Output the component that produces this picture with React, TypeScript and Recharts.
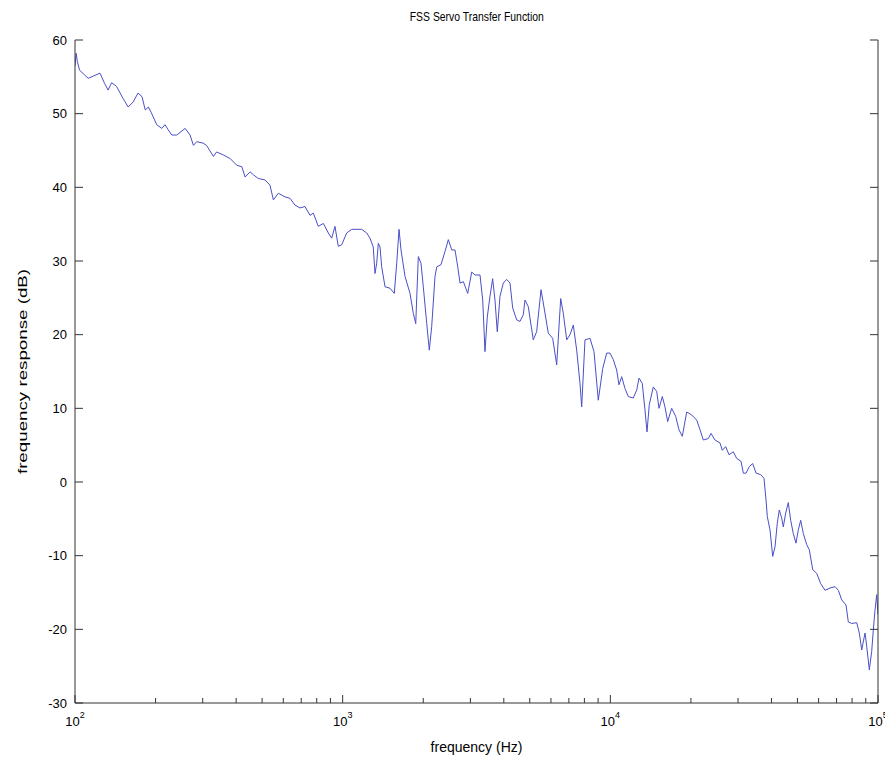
import { Label, Line, LineChart, XAxis, YAxis } from "recharts";

// frequency (Hz) and response (dB)
const FREQ_HZ = [
  100, 101, 102, 104, 109, 112, 117, 124, 129, 133, 137, 143, 151, 158, 165, 172, 178, 183, 188, 193,
  202, 211, 217, 223, 230, 240, 258, 269, 277, 285, 301,
  310, 329, 338, 358, 380, 402, 420, 432, 451, 464, 484, 513, 535, 551, 575, 609, 636, 663, 693, 723,
  755, 777, 811, 847, 884, 910, 936, 963,
  992, 1035, 1081, 1178, 1230, 1265, 1301, 1321, 1340, 1359, 1379, 1399, 1440, 1503, 1559, 1592, 1624,
  1652, 1710, 1785, 1836, 1875, 1917, 1962, 2001, 2061, 2107, 2151, 2213, 2246, 2330, 2412, 2482, 2556,
  2629, 2691, 2745, 2824, 2932, 3035, 3122,
  3259, 3336, 3402, 3470, 3551, 3634, 3707, 3781, 3870, 3981, 4100, 4219, 4318, 4469, 4597, 4729, 4799,
  4937, 5153, 5306, 5508, 5618, 5865, 6091, 6304, 6525, 6672, 6871, 7069, 7272, 7487, 7703, 7816, 8041,
  8395, 8690, 9016, 9365, 9692, 9972,
  10260, 10560, 10770, 11030, 11340, 11670, 12180, 12550, 12800, 13160, 13470, 13710, 13980, 14470,
  14900, 15200, 15640, 16000, 16380, 16950, 17550, 18050, 18570, 19290, 20140, 21020, 21630, 22250,
  23230, 23780, 24600, 25690, 26200, 26980, 27750, 28800, 29660, 30780, 31400,
  32130, 33060, 34040, 35020, 36460, 37510, 38160, 38590, 39490, 40420, 41230, 42050, 42780, 43670,
  44280, 45200, 46220, 47190, 48250, 49390, 50380, 51430, 52600, 54160, 55380, 57030, 59020, 61090,
  63390, 66180, 69090, 71080, 73190, 75950, 77470, 79770, 83280, 85160, 86930, 89430, 90750, 92800,
  94720, 96040, 97450, 98880, 100000,
];

const RESPONSE_DB = [
  56.5, 58.2, 57.1, 55.9, 55.2, 54.8, 55.1, 55.5, 54.1, 53.2, 54.2, 53.7, 52.1, 50.9, 51.6, 52.8, 52.3, 50.5, 50.9, 50.1,
  48.5, 48.0, 48.5, 47.8, 47.1, 47.1, 48.0, 47.1, 45.7, 46.2, 46.0,
  45.7, 44.2, 44.8, 44.4, 43.9, 43.0, 42.8, 41.4, 42.1, 41.7, 41.2, 41.0, 40.3, 38.3, 39.2, 38.7, 38.5, 37.6, 37.2, 37.4,
  36.2, 36.5, 34.7, 35.1, 33.8, 33.1, 34.7, 32.0,
  32.2, 33.8, 34.3, 34.3, 33.8, 33.1, 31.9, 28.3, 29.7, 32.4, 31.9, 29.2, 26.5, 26.3, 25.6, 29.7, 34.3,
  31.5, 27.9, 25.6, 22.9, 21.5, 30.6, 29.7, 26.5, 21.5, 17.9, 21.1, 27.9, 29.2, 29.5, 31.3, 32.9, 31.5,
  31.5, 29.2, 27.0, 27.2, 25.6, 28.5, 28.1,
  28.1, 24.7, 17.7, 22.4, 25.2, 27.6, 24.7, 20.4, 25.2, 27.0, 27.5, 27.0, 23.6, 22.0, 21.8, 22.7, 24.7,
  23.8, 19.3, 20.4, 26.1, 24.3, 20.2, 19.5, 15.9, 24.9, 22.9, 19.3, 20.0, 21.3, 17.9, 13.4, 10.2, 19.3,
  19.5, 17.7, 11.1, 15.4, 17.5, 17.5,
  16.6, 15.2, 13.2, 14.3, 12.7, 11.6, 11.4, 12.5, 14.1, 13.4, 9.8, 6.8, 10.5, 12.9,
  12.3, 10.0, 11.6, 10.2, 8.2, 10.0, 8.9, 7.1, 6.2, 9.5, 9.1, 8.4, 7.1, 5.7,
  5.9, 6.6, 5.7, 5.3, 4.3, 4.8, 3.7, 4.1, 3.2, 2.8, 1.2,
  1.2, 2.1, 2.5, 1.2, 1.0, 0.5, -2.4, -4.7, -6.5, -10.1, -8.8, -5.6, -3.8, -4.9,
  -6.1, -4.2, -2.8, -5.2, -7.0, -8.3, -6.5, -5.2, -7.0, -8.5, -9.2, -11.9, -12.4, -13.8,
  -14.7, -14.4, -14.2, -14.7, -16.0, -16.7, -19.0, -19.2, -19.1, -20.5, -22.8, -20.5, -22.3, -25.5,
  -23.0, -20.1, -17.4, -15.3, -18.0,
];

const FREQ_TICKS = [
  100, 200, 300, 400, 500, 600, 700, 800, 900,
  1000, 2000, 3000, 4000, 5000, 6000, 7000, 8000, 9000,
  10000, 20000, 30000, 40000, 50000, 60000, 70000, 80000, 90000,
  100000,
];
const DECADES = [100, 1000, 10000, 100000];
const DECADE_EXP = ["2", "3", "4", "5"];
const DB_TICKS = [-30, -20, -10, 0, 10, 20, 30, 40, 50, 60];

const data = FREQ_HZ.map((f, i) => ({ f, db: RESPONSE_DB[i] }));

const AXIS = "#333";
const LINE = "#4a4fc8";
const FONT = "'Liberation Sans', Arial, Helvetica, sans-serif";

function BottomTick({ x, y, payload }: any) {
  const k = DECADES.indexOf(payload.value);
  return (
    <g>
      <line x1={x} y1={y} x2={x} y2={y - (k >= 0 ? 8 : 5)} stroke={AXIS} />
      {k >= 0 && (
        <text x={x} y={y + 23} textAnchor="middle" fontSize={13} fill="#000" fontFamily={FONT}>
          10
          <tspan dy={-8} fontSize={9}>
            {DECADE_EXP[k]}
          </tspan>
        </text>
      )}
    </g>
  );
}

function TopTick({ x, y, payload }: any) {
  const major = DECADES.includes(payload.value);
  return <line x1={x} y1={y} x2={x} y2={y + (major ? 8 : 5)} stroke={AXIS} />;
}

function LeftTick({ x, y, payload }: any) {
  return (
    <g>
      <line x1={x} y1={y} x2={x + 8} y2={y} stroke={AXIS} />
      <text x={x - 8} y={y} dy={4.5} textAnchor="end" fontSize={13} fill="#000" fontFamily={FONT}>
        {payload.value}
      </text>
    </g>
  );
}

function RightTick({ x, y }: any) {
  return <line x1={x} y1={y} x2={x - 8} y2={y} stroke={AXIS} />;
}

function YLabel({ viewBox }: any) {
  const cx = viewBox.x + 14;
  const cy = viewBox.y + viewBox.height / 2;
  return (
    <text
      transform={`translate(${cx},${cy}) rotate(-90) scale(1.5,1)`}
      textAnchor="middle"
      dy={4.5}
      fontSize={12.5}
      fill="#000"
      fontFamily={FONT}
    >
      frequency response (dB)
    </text>
  );
}

export default function App() {
  return (
    <div style={{ position: "relative", width: 885, height: 758 }}>
      <div
        style={{
          position: "absolute",
          top: 1,
          left: 67,
          width: 803,
          textAlign: "center",
          fontFamily: FONT,
          fontSize: 13,
          lineHeight: "16px",
          color: "#000",
        }}
      >
        <span style={{ display: "inline-block", transform: "scaleX(0.8)" }}>FSS Servo Transfer Function</span>
      </div>
      <LineChart width={885} height={758} data={data} margin={{ top: 32, right: 0, bottom: 0, left: 0 }}>
        <XAxis
          dataKey="f"
          type="number"
          scale="log"
          domain={[100, 100000]}
          allowDataOverflow
          ticks={FREQ_TICKS}
          interval={0}
          height={63}
          tickSize={0}
          tickMargin={0}
          tickLine={false}
          tick={<BottomTick />}
          axisLine={{ stroke: AXIS }}
        >
          <Label value="frequency (Hz)" position="insideBottom" offset={14} fill="#000" style={{ fontSize: 14, fontFamily: FONT }} />
        </XAxis>
        <XAxis
          xAxisId="top"
          orientation="top"
          dataKey="f"
          type="number"
          scale="log"
          domain={[100, 100000]}
          allowDataOverflow
          ticks={FREQ_TICKS}
          interval={0}
          height={0}
          tickSize={0}
          tickMargin={0}
          tickLine={false}
          tick={<TopTick />}
          axisLine={{ stroke: AXIS }}
        />
        <YAxis
          type="number"
          domain={[-30, 60]}
          allowDataOverflow
          ticks={DB_TICKS}
          interval={0}
          width={67}
          tickSize={0}
          tickMargin={0}
          tickLine={false}
          tick={<LeftTick />}
          axisLine={{ stroke: AXIS }}
        >
          <Label content={<YLabel />} />
        </YAxis>
        <YAxis
          yAxisId="right"
          orientation="right"
          type="number"
          domain={[-30, 60]}
          allowDataOverflow
          ticks={DB_TICKS}
          interval={0}
          width={15}
          tickSize={0}
          tickMargin={0}
          tickLine={false}
          tick={<RightTick />}
          axisLine={{ stroke: AXIS }}
        />
        <Line
          dataKey="db"
          type="linear"
          stroke={LINE}
          strokeWidth={1}
          dot={false}
          activeDot={false}
          isAnimationActive={false}
        />
      </LineChart>
    </div>
  );
}
